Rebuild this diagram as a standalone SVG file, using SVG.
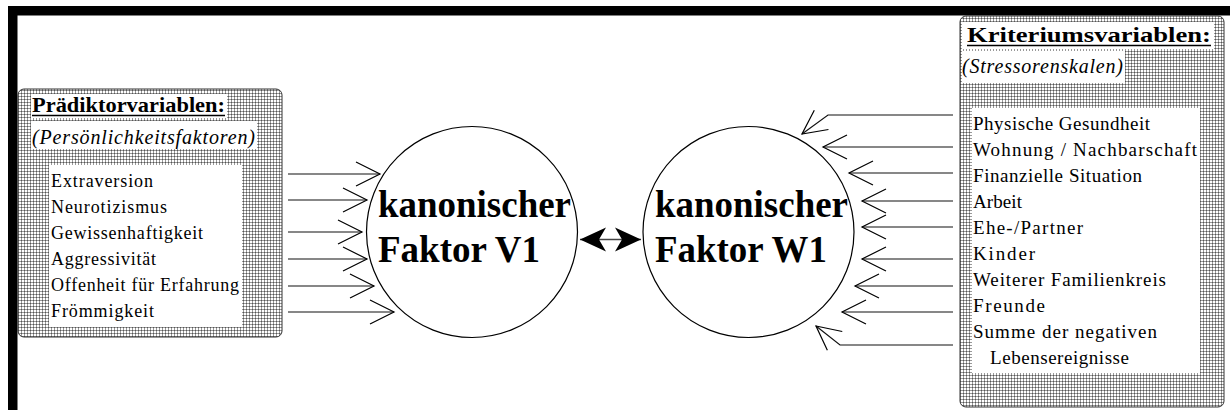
<svg xmlns="http://www.w3.org/2000/svg" width="1230" height="410" viewBox="0 0 1230 410">
  <defs>
    <pattern id="stip" width="3" height="3" patternUnits="userSpaceOnUse">
      <rect width="3" height="3" fill="#fff"/>
      <rect width="3" height="1" fill="#999"/>
      <rect width="1" height="3" fill="#999"/>
      <rect width="1" height="1" fill="#555"/>
    </pattern>
    <marker id="open" markerUnits="userSpaceOnUse" markerWidth="32" markerHeight="32" viewBox="-28 -15 32 30" refX="0" refY="0" orient="auto">
      <path d="M-24,-12 L0,0 L-24,12" fill="none" stroke="#000" stroke-width="1.2"/>
    </marker>
    <marker id="solid" markerUnits="userSpaceOnUse" markerWidth="32" markerHeight="32" viewBox="-28 -15 32 30" refX="0" refY="0" orient="auto-start-reverse">
      <path d="M0,0 L-26,-12 L-19,0 L-26,12 Z" fill="#000"/>
    </marker>
  </defs>
  <style>
    .box { fill: url(#stip); stroke: #333; stroke-width: 1; }
    .white { fill: #fff; }
    .title { font-family: "Liberation Serif", "Times New Roman", serif; font-weight: bold; fill: #000; }
    .sub { font-family: "Liberation Serif", "Times New Roman", serif; font-style: italic; fill: #000; }
    .item { font-family: "Liberation Serif", "Times New Roman", serif; fill: #000; }
    .big { font-family: "Liberation Serif", "Times New Roman", serif; font-weight: bold; font-size: 37px; fill: #000; }
    .circle { fill: #fff; stroke: #000; stroke-width: 1.2; }
    .arrow { fill: none; stroke: #111; stroke-width: 1.2; marker-end: url(#open); }
  </style>

  <rect width="1230" height="410" fill="#fff"/>

  <g id="frame">
    <rect x="8" y="6" width="1222" height="9.5" fill="#000"/>
    <rect x="8" y="6" width="9.5" height="404" fill="#000"/>
  </g>

  <g id="node-praediktoren">
    <rect class="box" x="18" y="89" width="264" height="248" rx="6"/>
    <rect class="white" x="31" y="94" width="196" height="24"/>
    <rect class="white" x="31" y="121" width="226" height="28"/>
    <rect class="white" x="49" y="165" width="193" height="162"/>
    <text class="title" x="32" y="112" font-size="22" textLength="193" lengthAdjust="spacingAndGlyphs">Prädiktorvariablen:</text>
    <line x1="32" y1="115.5" x2="225" y2="115.5" stroke="#000" stroke-width="1.5"/>
    <text class="sub" x="32" y="144" font-size="20" textLength="223" lengthAdjust="spacing">(Persönlichkeitsfaktoren)</text>
    <g class="item" font-size="18">
      <text x="51" y="187" textLength="102" lengthAdjust="spacing">Extraversion</text>
      <text x="51" y="213" textLength="116" lengthAdjust="spacing">Neurotizismus</text>
      <text x="51" y="239" textLength="152" lengthAdjust="spacing">Gewissenhaftigkeit</text>
      <text x="51" y="265" textLength="105" lengthAdjust="spacing">Aggressivität</text>
      <text x="51" y="291" textLength="188" lengthAdjust="spacing">Offenheit für Erfahrung</text>
      <text x="51" y="317" textLength="103" lengthAdjust="spacing">Frömmigkeit</text>
    </g>
  </g>

  <g id="node-kriterien">
    <rect class="box" x="960" y="16" width="264" height="391" rx="6"/>
    <rect class="white" x="962" y="22" width="252" height="27"/>
    <rect class="white" x="962" y="51" width="163" height="32"/>
    <rect class="white" x="972" y="108" width="228" height="265"/>
    <text class="title" x="967" y="42" font-size="22" textLength="244" lengthAdjust="spacingAndGlyphs">Kriteriumsvariablen:</text>
    <line x1="967" y1="45.5" x2="1211" y2="45.5" stroke="#000" stroke-width="1.5"/>
    <text class="sub" x="962" y="73" font-size="20" textLength="161" lengthAdjust="spacing">(Stressorenskalen)</text>
    <g class="item" font-size="19">
      <text x="973" y="130" textLength="177" lengthAdjust="spacing">Physische Gesundheit</text>
      <text x="973" y="156" textLength="224" lengthAdjust="spacing">Wohnung / Nachbarschaft</text>
      <text x="973" y="182" textLength="169" lengthAdjust="spacing">Finanzielle Situation</text>
      <text x="973" y="208" textLength="49" lengthAdjust="spacing">Arbeit</text>
      <text x="973" y="234" textLength="110" lengthAdjust="spacing">Ehe-/Partner</text>
      <text x="973" y="260" textLength="62" lengthAdjust="spacing">Kinder</text>
      <text x="973" y="286" textLength="193" lengthAdjust="spacing">Weiterer Familienkreis</text>
      <text x="973" y="312" textLength="72" lengthAdjust="spacing">Freunde</text>
      <text x="973" y="338" textLength="184" lengthAdjust="spacing">Summe der negativen</text>
      <text x="990" y="364" textLength="139" lengthAdjust="spacing">Lebensereignisse</text>
    </g>
  </g>

  <g id="node-v1">
    <circle class="circle" cx="472" cy="232" r="105.5"/>
    <text class="big" x="378" y="217" textLength="193" lengthAdjust="spacingAndGlyphs">kanonischer</text>
    <text class="big" x="378" y="262" textLength="162" lengthAdjust="spacingAndGlyphs">Faktor V1</text>
  </g>

  <g id="node-w1">
    <circle class="circle" cx="748.5" cy="232" r="105.5"/>
    <text class="big" x="655" y="217" textLength="193" lengthAdjust="spacingAndGlyphs">kanonischer</text>
    <text class="big" x="655" y="262" textLength="172" lengthAdjust="spacingAndGlyphs">Faktor W1</text>
  </g>

  <g id="connectors">
    <polyline class="arrow" points="288,174 380,174"/>
    <polyline class="arrow" points="288,200 367,200"/>
    <polyline class="arrow" points="288,232 362,232"/>
    <polyline class="arrow" points="288,259 367,259"/>
    <polyline class="arrow" points="288,286 374,286"/>
    <polyline class="arrow" points="288,312 394,312"/>

    <polyline class="arrow" points="953,115 828,115 802,134"/>
    <polyline class="arrow" points="953,147 823,147"/>
    <polyline class="arrow" points="953,173 849,173"/>
    <polyline class="arrow" points="953,201 862,201"/>
    <polyline class="arrow" points="953,227 862,227"/>
    <polyline class="arrow" points="953,259 862,259"/>
    <polyline class="arrow" points="953,286 855,286"/>
    <polyline class="arrow" points="953,312 842,312"/>
    <polyline class="arrow" points="953,345 840,345 816,326"/>

    <line x1="580" y1="239.5" x2="641" y2="239.5" stroke="#444" stroke-width="1.5" marker-start="url(#solid)" marker-end="url(#solid)"/>
  </g>
</svg>
